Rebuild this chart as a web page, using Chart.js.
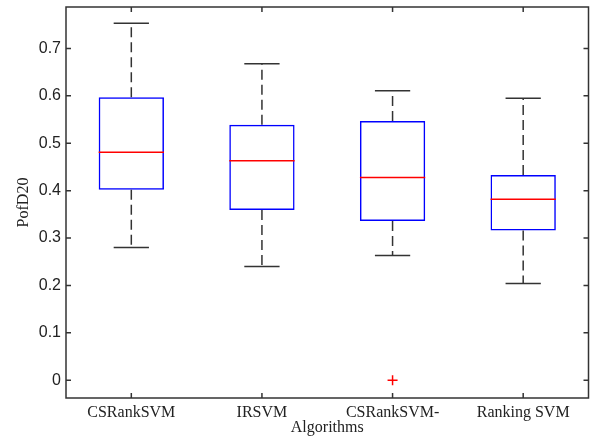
<!DOCTYPE html>
<html>
<head>
<meta charset="utf-8">
<script src="https://cdn.jsdelivr.net/npm/chart.js@4"></script>
<style>
  html, body { margin: 0; padding: 0; background: #fff; }
  #wrap { width: 595px; height: 441px; }
</style>
</head>
<body>
<div id="wrap"><canvas id="chart" width="595" height="441"></canvas></div>
<script>
// datos del boxplot
const algorithms = ['CSRankSVM', 'IRSVM', 'CSRankSVM-', 'Ranking SVM'];
const whiskerLow = [0.280, 0.240, 0.263, 0.204];
const q1 = [0.402, 0.359, 0.336, 0.316];
const median = [0.481, 0.463, 0.428, 0.382];
const q3 = [0.597, 0.539, 0.547, 0.433];
const whiskerHigh = [0.753, 0.668, 0.611, 0.595];
const outliers = [null, null, 0.0, null];
const yTicks = [0, 0.1, 0.2, 0.3, 0.4, 0.5, 0.6, 0.7];

const axisColor = '#333333';

// dibuja mediana, bigotes y el marco con ticks hacia dentro
const boxPlugin = {
    id: 'boxExtras',
    afterDatasetsDraw(chart) {
        const ctx = chart.ctx;
        const xs = chart.scales.x;
        const ys = chart.scales.y;
        const bars = chart.getDatasetMeta(0).data;
        ctx.save();
        algorithms.forEach((name, i) => {
            const cx = xs.getPixelForValue(i);
            const half = bars[i].width / 2;
            const capHalf = half * 0.54;
            // bigotes discontinuos
            ctx.strokeStyle = axisColor;
            ctx.lineWidth = 1.5;
            ctx.setLineDash([10, 5]);
            ctx.beginPath();
            ctx.moveTo(cx, ys.getPixelForValue(q3[i]));
            ctx.lineTo(cx, ys.getPixelForValue(whiskerHigh[i]));
            ctx.moveTo(cx, ys.getPixelForValue(q1[i]));
            ctx.lineTo(cx, ys.getPixelForValue(whiskerLow[i]));
            ctx.stroke();
            ctx.setLineDash([]);
            // tapas
            ctx.beginPath();
            const yh = ys.getPixelForValue(whiskerHigh[i]);
            const yl = ys.getPixelForValue(whiskerLow[i]);
            ctx.moveTo(cx - capHalf, yh); ctx.lineTo(cx + capHalf, yh);
            ctx.moveTo(cx - capHalf, yl); ctx.lineTo(cx + capHalf, yl);
            ctx.stroke();
            // mediana
            ctx.strokeStyle = '#ff0000';
            ctx.lineWidth = 1.5;
            const ym = ys.getPixelForValue(median[i]);
            ctx.beginPath();
            ctx.moveTo(cx - half, ym); ctx.lineTo(cx + half, ym);
            ctx.stroke();
        });

        // marco
        const a = chart.chartArea;
        ctx.strokeStyle = axisColor;
        ctx.lineWidth = 1.5;
        ctx.strokeRect(a.left, a.top, a.right - a.left, a.bottom - a.top);
        const tl = 5;
        ctx.beginPath();
        yTicks.forEach(v => {
            const y = ys.getPixelForValue(v);
            ctx.moveTo(a.left, y); ctx.lineTo(a.left + tl, y);
            ctx.moveTo(a.right, y); ctx.lineTo(a.right - tl, y);
        });
        algorithms.forEach((n, i) => {
            const x = xs.getPixelForValue(i);
            ctx.moveTo(x, a.top); ctx.lineTo(x, a.top + tl);
            ctx.moveTo(x, a.bottom); ctx.lineTo(x, a.bottom - tl);
        });
        ctx.stroke();
        ctx.restore();
    }
};

const chart = new Chart(document.getElementById('chart').getContext('2d'), {
    data: {
        labels: algorithms,
        datasets: [{
            type: 'bar',
            data: q1.map((v, i) => [v, q3[i]]),
            backgroundColor: 'rgba(0,0,0,0)',
            borderColor: '#0000ff',
            borderWidth: 1.5,
            borderSkipped: false,
            barPercentage: 0.5,
            categoryPercentage: 1.0
        }, {
            type: 'line',
            data: outliers,
            showLine: false,
            pointStyle: 'cross',
            pointRadius: 5,
            pointBorderColor: '#ff0000',
            pointBorderWidth: 1.5,
            borderColor: '#ff0000'
        }]
    },
    options: {
        responsive: false,
        animation: false,
        layout: { padding: { left: 0, right: 6, top: 7, bottom: 0 } },
        plugins: { legend: { display: false }, tooltip: { enabled: false } },
        scales: {
            x: {
                type: 'category',
                offset: true,
                grid: { display: false, drawTicks: false },
                border: { display: false },
                ticks: {
                    padding: 5,
                    color: '#222',
                    maxRotation: 0,
                    autoSkip: false,
                    font: { family: '"Liberation Serif", "Times New Roman", serif', size: 16 }
                },
                title: {
                    display: true,
                    text: 'Algorithms',
                    color: '#222',
                    padding: { top: 0, bottom: 4 },
                    font: { family: '"Liberation Serif", "Times New Roman", serif', size: 16 }
                },
                afterFit: s => { s.height = 43; s.paddingLeft = 0; s.paddingRight = 0; }
            },
            y: {
                min: -0.0375,
                max: 0.7875,
                grid: { display: false, drawTicks: false },
                border: { display: false },
                afterBuildTicks: s => { s.ticks = yTicks.map(v => ({ value: v })); },
                ticks: {
                    padding: 5,
                    color: '#222',
                    callback: v => (v === 0 ? '0' : v.toFixed(1)),
                    font: { family: '"Liberation Sans", Arial, sans-serif', size: 16 }
                },
                title: {
                    display: true,
                    text: 'PofD20',
                    color: '#222',
                    padding: { top: 14, bottom: 0 },
                    font: { family: '"Liberation Serif", "Times New Roman", serif', size: 16 }
                },
                afterFit: s => { s.width = 66; s.paddingTop = 0; s.paddingBottom = 0; }
            }
        }
    },
    plugins: [boxPlugin]
});
</script>
</body>
</html>
